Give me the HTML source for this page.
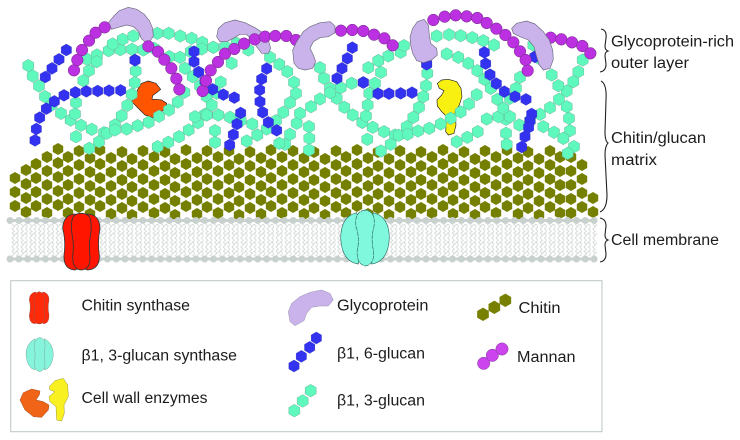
<!DOCTYPE html>
<html><head><meta charset="utf-8"><style>
html,body{margin:0;padding:0;background:#fff}
svg{display:block;filter:blur(.35px)}
text{font-family:"Liberation Sans",sans-serif;font-size:15.5px;fill:#1c1c1c}
.t{fill:none;stroke:none;marker:url(#mt)}
.b{fill:none;stroke:none;marker:url(#mb)}
.m{fill:none;stroke:none;marker:url(#mm)}
.g{fill:#c9b3ea;stroke:#6d6a80;stroke-width:2;stroke-linejoin:round}
.br{fill:none;stroke:#222;stroke-width:1.1}
</style></head><body>
<svg xmlns="http://www.w3.org/2000/svg" width="740" height="440" viewBox="0 0 740 440">
<defs>
<marker id="mt" markerUnits="userSpaceOnUse" markerWidth="44" markerHeight="44" refX="22" refY="22"><polygon points="22,3 38.5,12.5 38.5,31.5 22,41 5.5,31.5 5.5,12.5" fill="#5ff8bd" stroke="#69b89c" stroke-width="1.5"/></marker>
<marker id="mb" markerUnits="userSpaceOnUse" markerWidth="44" markerHeight="44" refX="22" refY="22"><polygon points="22,4 37.5,13 37.5,31 22,40 6.5,31 6.5,13" fill="#3232f0" stroke="#2a2ab0" stroke-width="1"/></marker>
<marker id="mm" markerUnits="userSpaceOnUse" markerWidth="44" markerHeight="44" refX="22" refY="22"><circle cx="22" cy="22" r="17.5" fill="#bb30e0" stroke="#6a2a80" stroke-width="1.5"/></marker>
<marker id="mc" markerUnits="userSpaceOnUse" markerWidth="48" markerHeight="48" refX="24" refY="24"><polygon points="24,4 41.5,14 41.5,34 24,44 6.5,34 6.5,14" fill="#778000"/></marker>
<marker id="ml" markerUnits="userSpaceOnUse" markerWidth="48" markerHeight="48" refX="24" refY="24"><circle cx="24" cy="24" r="18.5" fill="#cc44ee" stroke="#7a3a90" stroke-width="1.5"/></marker>
<polygon id="h" points="0,-6 5.2,-3 5.2,3 0,6 -5.2,3 -5.2,-3" fill="#758000"/>
<g id="c2"><use href="#h"/><use href="#h" y="-14"/></g>
<g id="c3"><use href="#c2"/><use href="#h" y="-28"/></g>
<g id="c4"><use href="#c3"/><use href="#h" y="-42"/></g>
<g id="c5"><use href="#c4"/><use href="#h" y="-56"/></g>
<pattern id="tails" width="8.8" height="9" patternUnits="userSpaceOnUse" x="10" y="224"><path d="M2 0L4.5 2.5 2 5 4.5 7.5 2 9M6.5 0L4.5 2.5M6.5 0L9 2.5 6.5 5 9 7.5 6.5 9" fill="none" stroke="#d4d9d8" stroke-width=".9"/></pattern>
</defs>

<!-- chitin -->
<g>
<use href="#c3" x="15" y="206"/><use href="#c4" x="26" y="212"/><use href="#c4" x="36" y="206"/><use href="#c5" x="47" y="213"/><use href="#c5" x="58" y="205"/><use href="#c5" x="68" y="213"/><use href="#c5" x="79" y="207"/><use href="#c5" x="90" y="214"/><use href="#c5" x="100" y="206"/><use href="#c5" x="111" y="214"/>
<use href="#c5" x="122" y="208"/><use href="#c5" x="132" y="215"/><use href="#c5" x="143" y="207"/><use href="#c5" x="154" y="213"/><use href="#c5" x="165" y="208"/><use href="#c5" x="175" y="215"/><use href="#c5" x="186" y="206"/><use href="#c5" x="197" y="214"/><use href="#c5" x="207" y="207"/><use href="#c5" x="218" y="213"/>
<use href="#c5" x="229" y="207"/><use href="#c5" x="239" y="215"/><use href="#c5" x="250" y="208"/><use href="#c5" x="261" y="214"/><use href="#c5" x="271" y="206"/><use href="#c5" x="282" y="213"/><use href="#c5" x="293" y="207"/><use href="#c5" x="304" y="214"/><use href="#c5" x="314" y="208"/><use href="#c5" x="325" y="215"/>
<use href="#c5" x="336" y="207"/><use href="#c5" x="346" y="213"/><use href="#c5" x="357" y="206"/><use href="#c5" x="368" y="214"/><use href="#c5" x="378" y="208"/><use href="#c5" x="389" y="215"/><use href="#c5" x="400" y="207"/><use href="#c5" x="411" y="214"/><use href="#c5" x="421" y="208"/><use href="#c5" x="432" y="213"/>
<use href="#c5" x="443" y="206"/><use href="#c5" x="453" y="214"/><use href="#c5" x="464" y="208"/><use href="#c5" x="475" y="215"/><use href="#c5" x="485" y="207"/><use href="#c5" x="496" y="213"/><use href="#c5" x="507" y="206"/><use href="#c5" x="518" y="214"/><use href="#c5" x="528" y="208"/><use href="#c5" x="539" y="215"/>
<use href="#c5" x="550" y="207"/><use href="#c5" x="560" y="213"/><use href="#c5" x="571" y="213"/><use href="#c4" x="582" y="207"/><use href="#c2" x="593" y="212"/>
</g>

<!-- membrane -->
<rect x="10" y="224" width="587" height="32" fill="url(#tails)"/>
<line x1="10" y1="220.5" x2="597" y2="220.5" stroke="#c9d1cf" stroke-width="3"/>
<line x1="10" y1="259" x2="597" y2="259" stroke="#c9d1cf" stroke-width="3"/>
<line x1="10" y1="220.5" x2="597" y2="220.5" stroke="#c9d1cf" stroke-width="7" stroke-linecap="round" stroke-dasharray="0 8.85"/>
<line x1="10" y1="259" x2="597" y2="259" stroke="#c9d1cf" stroke-width="7" stroke-linecap="round" stroke-dasharray="0 8.85"/>

<!-- left half traced -->
<g transform="scale(.33333)">
<polygon points="415,265 425,250 445,243 468,250 482,268 470,278 458,287 456,298 468,298 485,300 500,310 495,325 475,345 460,353 435,345 415,325 395,305 405,285" fill="#ff5500" stroke="#222" stroke-width="2" stroke-linejoin="round"/>
<polyline class="t" points="85,197 98,228 117,258 135,290 155,315 183,340 212,360 243,376 275,388 312,398 345,375 365,347 382,316 395,283 404,248 407,213"/>
<polyline class="t" points="268,445 297,425 320,400 345,390 380,387 413,377 446,367 477,349 507,330 533,306 553,277"/>
<polyline class="t" points="228,410 212,360 225,342 228,308 250,242 267,212 262,178 291,165 326,152 361,149 396,148 430,150 462,145 508,170 540,172 555,205 578,230 600,258 620,290 620,345 645,392 645,427"/>
<polyline class="t" points="290,185 338,132 368,118 400,108 435,100 472,100 506,100 541,108 575,115 607,127 640,142 675,140 710,130"/>
<polyline class="t" points="473,440 505,427 537,410 566,390 594,368 615,343 635,315 650,280 662,246"/>
<polyline class="t" points="585,350 620,345 655,345 690,352 722,362 757,372 772,405 740,423"/>
<polyline class="t" points="572,155 605,147 640,142 695,190"/>
<polyline class="t" points="745,150 810,172 838,193 862,215 882,247 888,280 870,308 850,337 828,362 800,387 772,405"/>
<polyline class="t" points="890,370 870,403 855,433 838,430"/>
<polyline class="b" points="199,150 177,178 156,205 136,231"/>
<polyline class="b" points="362,271 327,272 293,273 259,274 226,277 192,286 163,304 139,326 119,353 109,387 105,421"/>
<polyline class="b" points="405,180 405,181"/>
<polyline class="b" points="582,155 582,185 596,216 615,243 638,268 670,284 703,293"/>
<polyline class="b" points="800,206 785,237 779,270 780,305 788,337 805,367 830,391"/>
<polyline class="b" points="722,339 711,372 700,404 689,435"/>
<polygon class="g" points="325,68 340,50 358,32 385,22 410,28 432,42 448,62 458,85 460,108 450,124 436,126 424,116 416,95 400,80 380,75 355,82 335,88"/>
<polygon class="g" points="650,110 655,85 675,68 705,60 735,68 765,83 790,100 805,120 812,145 805,160 785,160 770,140 755,118 740,103 720,103 700,115 680,125 660,125"/>
<polyline class="m" points="222,211 232,180 246,150 267,122 287,98 314,82"/>
<polyline class="m" points="445,139 474,155 493,179 514,205 529,236 538,268"/>
<polyline class="m" points="608,273 618,242 632,211 654,186 675,161 703,147 732,131 764,118 795,110 826,108 859,108 888,120"/>
</g>

<!-- right half traced -->
<g transform="translate(300,0) scale(.33333)">
<polygon points="412,250 425,240 445,238 470,245 483,265 486,290 478,315 465,335 468,375 462,400 445,405 437,395 440,350 425,335 412,318 411,300 425,285 432,272 418,265" fill="#f8f010" stroke="#222" stroke-width="2" stroke-linejoin="round"/>
<polyline class="t" points="60,203 72,235 90,265 110,295 133,322 158,345 187,367 218,382 252,395 285,405 320,380 340,352 357,322 370,290 378,257 382,220"/>
<polyline class="t" points="243,453 272,433 296,406 323,403 354,393 388,385 422,372 452,355 482,336 507,312 530,284"/>
<polyline class="t" points="202,418 187,367 198,348 203,315 208,280 225,250 243,217 235,182 265,168 302,157 312,137"/>
<polyline class="t" points="205,203 235,182"/>
<polyline class="t" points="155,250 122,263 90,278 60,297 33,320 0,340 27,380 28,415 27,450"/>
<polyline class="t" points="410,108 447,104 482,107 517,113 550,122 582,135"/>
<polyline class="t" points="440,162 475,172 505,190 532,212 553,238 572,265 592,298 610,325 618,358 618,400 620,433"/>
<polyline class="t" points="470,425 502,412 533,395 560,357 595,350 630,350 658,375 690,362 720,343 750,323 777,298 800,273 820,245 835,215 848,180"/>
<polyline class="t" points="660,232 648,265 630,295 610,325"/>
<polyline class="t" points="700,135 725,180 755,225 775,257 800,320 807,355 810,392 790,415"/>
<polyline class="t" points="730,380 762,397 790,415 822,440 803,460"/>
<polyline class="b" points="157,143 142,175 126,205 111,235"/>
<polyline class="b" points="190,247 190,248"/>
<polyline class="b" points="336,278 302,280 267,281 234,281"/>
<polyline class="b" points="380,192 380,193"/>
<polyline class="b" points="553,157 557,191 570,224 589,251 613,275 645,290 678,298"/>
<polyline class="b" points="695,342 690,362 686,382 675,410 665,441"/>
<polyline class="b" points="705,170 705,171"/>
<polyline class="m" points="123,92 157,90 190,93 222,104 253,115 278,136"/>
<polyline class="m" points="400,60 434,50 467,46 500,49 532,54 560,69 589,86 616,105 640,127 660,154 677,180 683,212"/>
<polyline class="m" points="752,113 784,118 816,127 847,138 871,160"/>
<polygon class="g" points="-22,150 -10,125 10,95 30,80 60,68 90,65 105,78 105,98 85,110 60,113 40,125 30,145 40,165 47,185 38,205 15,210 -5,205 -18,190"/>
<polygon class="g" points="330,110 338,85 352,65 372,58 385,75 388,105 392,130 410,145 412,165 395,180 370,188 350,182 338,160 332,135"/>
<polygon class="g" points="635,85 650,70 680,63 705,72 730,95 748,120 758,150 760,178 750,205 730,210 718,195 710,170 702,140 685,120 660,110 640,100"/>
</g>

<!-- synthases and legend icons -->
<g transform="translate(0,200) scale(.33333)">
<g fill="#ff1500" stroke="#2a3a3a" stroke-width="2.5">
<path d="M260,42 Q298,42 300,85 Q292,125 298,165 Q300,208 262,210 Q225,200 230,125 Q225,55 260,42 Z"/>
<path d="M225,42 Q190,44 188,85 Q198,125 192,165 Q190,208 225,210 Q262,200 258,125 Q262,55 225,42 Z"/>
<path d="M243,40 Q220,40 216,60 Q212,85 218,115 Q222,135 218,170 Q218,208 243,210 Q272,208 270,170 Q266,135 270,115 Q276,85 272,60 Q268,40 243,40 Z"/>
</g>
<g fill="#7ff8de" stroke="#2f6e64" stroke-width="2">
<path d="M1070,38 Q1022,50 1022,115 Q1026,185 1075,192 Q1090,120 1070,38 Z"/>
<path d="M1120,38 Q1168,50 1168,115 Q1164,185 1115,192 Q1100,120 1120,38 Z"/>
<path d="M1096,30 Q1062,34 1068,80 Q1080,115 1072,150 Q1068,192 1096,198 Q1126,192 1120,150 Q1112,115 1122,80 Q1128,34 1096,30 Z" stroke-dasharray="14 2"/>
</g>
<rect x="32" y="242" width="1774" height="453" fill="none" stroke="#c6cecd" stroke-width="3.5"/>
<g fill="#ff2a08" stroke="#995050" stroke-width="1.5">
<path d="M130,276 Q147,280 147,300 Q142,322 147,345 Q147,372 130,371 Q100,350 105,322 Q100,290 130,276 Z"/>
<path d="M106,276 Q88,280 88,300 Q94,322 88,345 Q88,372 106,371 Q132,350 128,322 Q132,290 106,276 Z"/>
<path d="M118,275 Q100,280 102,300 Q106,322 102,345 Q100,372 118,372 Q134,372 134,345 Q130,322 134,300 Q134,280 118,275 Z"/>
</g>
<g fill="#86f4da" stroke="#78a89e" stroke-width="1.5">
<path d="M105,416 Q78,430 78,465 Q82,505 105,510 Q112,465 105,416 Z"/>
<path d="M133,416 Q160,430 160,465 Q156,505 133,510 Q126,465 133,416 Z"/>
<path d="M119,412 Q100,416 103,445 Q108,465 103,485 Q102,512 119,515 Q136,512 135,485 Q130,465 135,445 Q138,416 119,412 Z"/>
</g>
<polygon points="60,600 70,578 95,567 120,573 118,585 108,600 130,605 147,615 145,630 125,652 100,650 75,630" fill="#f06418" stroke="#a05020" stroke-width="1.5" stroke-linejoin="round"/>
<polygon points="148,560 165,542 190,535 203,555 205,590 192,615 193,640 185,663 170,660 168,620 150,605 147,590 165,575 150,570" fill="#f8f020" stroke="#a09a30" stroke-width="1.5" stroke-linejoin="round"/>
<polygon points="865,335 875,310 900,290 930,277 965,270 990,280 1000,300 985,318 960,318 935,322 920,340 912,362 885,377 870,365" fill="#c9b3ea" stroke="#9a90b0" stroke-width="1.5" stroke-linejoin="round"/>
<polyline class="b" points="882,498 904,469 929,442 949,414"/>
<polyline class="t" points="883,632 908,603 932,572"/>
<polyline points="1449,343 1483,322 1516,301" fill="none" marker-start="url(#mc)" marker-mid="url(#mc)" marker-end="url(#mc)"/>
<polyline points="1451,490 1477,466 1506,447" fill="none" marker-start="url(#ml)" marker-mid="url(#ml)" marker-end="url(#ml)"/>
</g>

<!-- braces -->
<path class="br" d="M601,29 Q607,30 606,38 L605,46 Q605,50 608,51 Q605,52 605,56 L606,64 Q606,71 600,72"/>
<path class="br" d="M601,81 Q607,84 606,100 L605,132 Q605,141 608,143 Q605,146 605,155 L607,195 Q607,209 600,212"/>
<path class="br" d="M600,218 Q606,219 606,226 L605,235 Q605,239 608,240 Q605,241 605,245 L606,254 Q606,261 600,262"/>

<!-- labels -->
<text x="611" y="46.5" textLength="123" lengthAdjust="spacingAndGlyphs">Glycoprotein-rich</text>
<text x="611" y="68" textLength="78" lengthAdjust="spacingAndGlyphs">outer layer</text>
<text x="611" y="143" textLength="95" lengthAdjust="spacingAndGlyphs">Chitin/glucan</text>
<text x="611" y="165" textLength="46" lengthAdjust="spacingAndGlyphs">matrix</text>
<text x="611" y="245" textLength="108" lengthAdjust="spacingAndGlyphs">Cell membrane</text>
<text x="81.5" y="310.5" textLength="108.5" lengthAdjust="spacingAndGlyphs">Chitin synthase</text>
<text x="81.5" y="360.5" textLength="155.5" lengthAdjust="spacingAndGlyphs">β1, 3-glucan synthase</text>
<text x="81.5" y="403" textLength="126" lengthAdjust="spacingAndGlyphs">Cell wall enzymes</text>
<text x="337" y="310.5" textLength="91.5" lengthAdjust="spacingAndGlyphs">Glycoprotein</text>
<text x="337" y="358.5" textLength="88" lengthAdjust="spacingAndGlyphs">β1, 6-glucan</text>
<text x="337" y="405.5" textLength="88" lengthAdjust="spacingAndGlyphs">β1, 3-glucan</text>
<text x="518.5" y="313" textLength="42" lengthAdjust="spacingAndGlyphs">Chitin</text>
<text x="517" y="362" textLength="58.5" lengthAdjust="spacingAndGlyphs">Mannan</text>
</svg>
</body></html>
